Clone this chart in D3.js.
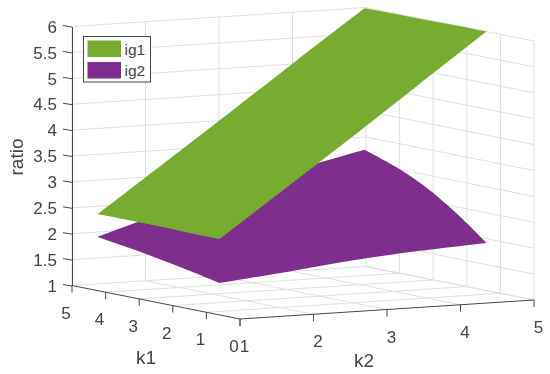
<!DOCTYPE html>
<html>
<head>
<meta charset="utf-8">
<script src="https://cdn.jsdelivr.net/npm/d3@7"></script>
<style>
  html, body { margin: 0; padding: 0; background: #fff; }
  /* the reference is a soft, rescaled screenshot */
  svg { display: block; filter: blur(0.35px); }
  text { font-family: "Liberation Sans", Arial, sans-serif; fill: #444; }
</style>
</head>
<body>
<script>
// Chart values
const k1Ticks = [0, 1, 2, 3, 4, 5];
const k2Ticks = [1, 2, 3, 4, 5];
const zTicks = [1, 1.5, 2, 2.5, 3, 3.5, 4, 4.5, 5, 5.5, 6];
const k1Grid = [1, 1.9, 2.8, 3.7, 4.63];
const k2Grid = [1.18, 2.09, 3, 3.9, 4.81];

// rows follow k1Grid, columns follow k2Grid
const ig1 = [
  [2.40, 3.31, 4.22, 5.14, 6.07],
  [2.40, 3.31, 4.22, 5.14, 6.07],
  [2.41, 3.31, 4.22, 5.14, 6.06],
  [2.41, 3.32, 4.23, 5.14, 6.06],
  [2.41, 3.32, 4.23, 5.14, 6.05]
];
const ig2 = [
  [1.55, 1.68, 1.82, 1.92, 1.99],
  [1.67, 1.88, 2.10, 2.29, 2.45],
  [1.78, 2.06, 2.33, 2.60, 2.83],
  [1.88, 2.22, 2.53, 2.84, 3.11],
  [1.97, 2.36, 2.70, 3.03, 3.32]
];
const legendNames = ["ig1", "ig2"];
const seriesColors = ["#77ac30", "#7e2f8e"];

const svgWidth = 550;
const svgHeight = 374;
const gridColor = "#dfdfe3";
const axisColor = "#484848";

// Screen position of the corner k1=0, k2=1, z=1
const origin = { x: 240, y: 319 };

// Oblique projection, one scale per axis and screen direction
const k1X = d3.scaleLinear().domain([0, 5]).range([0, -168]);
const k1Y = d3.scaleLinear().domain([0, 5]).range([0, -33.5]);
const k2X = d3.scaleLinear().domain([1, 5]).range([0, 294]);
const k2Y = d3.scaleLinear().domain([1, 5]).range([0, -19]);
const zY = d3.scaleLinear().domain([1, 6]).range([0, -259]);

const project = (k1, k2, z) => [
  origin.x + k1X(k1) + k2X(k2),
  origin.y + k1Y(k1) + k2Y(k2) + zY(z)
];

const svg = d3.select("body")
  .append("svg")
  .attr("width", svgWidth)
  .attr("height", svgHeight);

// Grid lines as pairs of 3D end points
const gridLines = [];
zTicks.forEach(z => {
  gridLines.push([[5, 1, z], [5, 5, z]]);
  gridLines.push([[5, 5, z], [0, 5, z]]);
});
k2Ticks.forEach(k2 => {
  gridLines.push([[5, k2, 1], [5, k2, 6]]);
  if (k2 > 1) gridLines.push([[5, k2, 1], [0, k2, 1]]);
});
k1Ticks.forEach(k1 => {
  if (k1 < 5) gridLines.push([[k1, 5, 1], [k1, 5, 6]]);
  if (k1 > 0 && k1 < 5) gridLines.push([[k1, 1, 1], [k1, 5, 1]]);
});

svg.append("g")
  .selectAll("line")
  .data(gridLines)
  .join("line")
  .attr("x1", d => project(...d[0])[0])
  .attr("y1", d => project(...d[0])[1])
  .attr("x2", d => project(...d[1])[0])
  .attr("y2", d => project(...d[1])[1])
  .attr("stroke", gridColor)
  .attr("stroke-width", 1);

// Surfaces: the solid colour hides the inner cells, so only the outline is drawn.
// Each side is its own smooth curve so the four corners stay sharp.
const edgeLine = d3.line().curve(d3.curveCatmullRom);

function drawSurface(values, color) {
  const n = k1Grid.length - 1;
  const m = k2Grid.length - 1;
  const sides = [
    k2Grid.map((k2, j) => project(k1Grid[0], k2, values[0][j])),
    k1Grid.map((k1, i) => project(k1, k2Grid[m], values[i][m])),
    k2Grid.map((k2, j) => project(k1Grid[n], k2, values[n][j])).reverse(),
    k1Grid.map((k1, i) => project(k1, k2Grid[0], values[i][0])).reverse()
  ];
  const outline = sides
    .map((side, i) => i === 0 ? edgeLine(side) : edgeLine(side).replace("M", "L"))
    .join("") + "Z";
  svg.append("path")
    .attr("d", outline)
    .attr("fill", color);
}
drawSurface(ig2, seriesColors[1]);
drawSurface(ig1, seriesColors[0]);

// z axis
const zScale = d3.scaleLinear()
  .domain([1, 6])
  .range([project(5, 1, 1)[1], project(5, 1, 6)[1]]);

const zAxis = svg.append("g")
  .attr("transform", `translate(${project(5, 1, 1)[0]}, 0)`)
  .call(d3.axisLeft(zScale).tickValues(zTicks).tickFormat(d3.format("~g")).tickSize(9).tickSizeOuter(0));
zAxis.select(".domain").attr("stroke", axisColor).attr("stroke-width", 1);
zAxis.selectAll(".tick line").attr("stroke", axisColor).attr("y2", -1.5);
zAxis.selectAll(".tick text")
  .attr("font-size", 17)
  .attr("font-family", null)
  .attr("x", -15)
  .attr("dy", "0.34em");

// k1 and k2 axes on the floor
const floorAxes = [
  { ticks: k1Ticks, at: t => project(t, 1, 1), labelDx: -6, labelDy: 33 },
  { ticks: k2Ticks, at: t => project(0, t, 1), labelDx: 4.5, labelDy: 33 }
];
floorAxes.forEach(axis => {
  const g = svg.append("g");
  const ends = d3.extent(axis.ticks).map(axis.at);
  g.append("line")
    .attr("x1", ends[0][0]).attr("y1", ends[0][1])
    .attr("x2", ends[1][0]).attr("y2", ends[1][1])
    .attr("stroke", axisColor);
  g.selectAll("line.tick")
    .data(axis.ticks)
    .join("line")
    .attr("class", "tick")
    .attr("x1", d => axis.at(d)[0])
    .attr("y1", d => axis.at(d)[1])
    .attr("x2", d => axis.at(d)[0])
    .attr("y2", d => axis.at(d)[1] + 7)
    .attr("stroke", axisColor);
  g.selectAll("text")
    .data(axis.ticks)
    .join("text")
    .attr("x", d => axis.at(d)[0] + axis.labelDx)
    .attr("y", d => axis.at(d)[1] + axis.labelDy)
    .attr("text-anchor", "middle")
    .attr("font-size", 17)
    .text(d => d);
});

// Axis titles
svg.append("text").attr("x", 146).attr("y", 364).attr("text-anchor", "middle").attr("font-size", 19).text("k1");
svg.append("text").attr("x", 364).attr("y", 367).attr("text-anchor", "middle").attr("font-size", 19).text("k2");
svg.append("text")
  .attr("transform", "translate(23, 157) rotate(-90)")
  .attr("text-anchor", "middle")
  .attr("font-size", 19)
  .text("ratio");

// Legend
const legend = svg.append("g").attr("transform", "translate(83.5, 36.5)");
legend.append("rect")
  .attr("width", 67)
  .attr("height", 45.5)
  .attr("fill", "#fff")
  .attr("stroke", axisColor);
legend.selectAll("rect.swatch")
  .data(legendNames)
  .join("rect")
  .attr("class", "swatch")
  .attr("x", 4)
  .attr("y", (d, i) => 4 + i * 21.5)
  .attr("width", 33.5)
  .attr("height", 16.5)
  .attr("fill", (d, i) => seriesColors[i]);
legend.selectAll("text")
  .data(legendNames)
  .join("text")
  .attr("x", 41)
  .attr("y", (d, i) => 18 + i * 21.5)
  .attr("font-size", 15.5)
  .text(d => d);
</script>
</body>
</html>
